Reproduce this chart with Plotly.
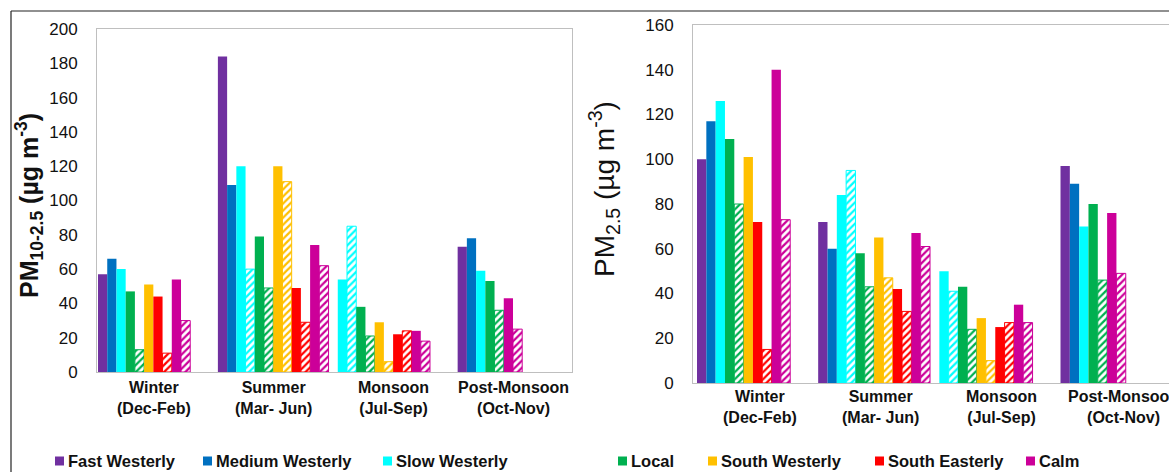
import plotly.graph_objects as go

# ---- data -------------------------------------------------------------
seasons = ["Winter<br>(Dec-Feb)", "Summer<br>(Mar- Jun)",
           "Monsoon<br>(Jul-Sep)", "Post-Monsoon<br>(Oct-Nov)"]
winds = ["Fast Westerly", "Medium Westerly", "Slow Westerly", "Local",
         "South Westerly", "South Easterly", "Calm"]
wind_colors = ["#7030A0", "#0070C0", "#00FFFF", "#00B050",
               "#FFC000", "#FF0000", "#CC0099"]

# PM10-2.5 (µg m-3), one list per wind class: Winter, Summer, Monsoon, Post-Monsoon
coarse_solid = {
    "Fast Westerly":   [57, 184, None, 73],
    "Medium Westerly": [66, 109, None, 78],
    "Slow Westerly":   [60, 120, 54, 59],
    "Local":           [47, 79, 38, 53],
    "South Westerly":  [51, 120, 29, None],
    "South Easterly":  [44, 49, 22, None],
    "Calm":            [54, 74, 24, 43],
}
coarse_hatched = {
    "Fast Westerly":   [None, None, None, None],
    "Medium Westerly": [None, None, None, None],
    "Slow Westerly":   [None, 60, 85, None],
    "Local":           [13, 49, 21, 36],
    "South Westerly":  [None, 111, 6, None],
    "South Easterly":  [11, 29, 24, None],
    "Calm":            [30, 62, 18, 25],
}

# PM2.5 (µg m-3)
fine_solid = {
    "Fast Westerly":   [100, 72, None, 97],
    "Medium Westerly": [117, 60, None, 89],
    "Slow Westerly":   [126, 84, 50, 70],
    "Local":           [109, 58, 43, 80],
    "South Westerly":  [101, 65, 29, None],
    "South Easterly":  [72, 42, 25, None],
    "Calm":            [140, 67, 35, 76],
}
fine_hatched = {
    "Fast Westerly":   [None, None, None, None],
    "Medium Westerly": [None, None, None, None],
    "Slow Westerly":   [None, 95, 41, None],
    "Local":           [80, 43, 24, 46],
    "South Westerly":  [None, 47, 10, None],
    "South Easterly":  [15, 32, 27, None],
    "Calm":            [73, 61, 27, 49],
}

# ---- layout constants ---------------------------------------------------
W, H = 1169, 472
BLOCK = 13          # bar slots reserved for each season
FONT = "Liberation Sans, Arial, sans-serif"
BOX = "#BFBFBF"
TEXT = "#111111"


def px_x(p):
    return p / W


def px_y(p):
    return 1 - p / H


def slot_positions(solid, hatched):
    """Consecutive slot index for every bar, season by season."""
    pos_s = {w: [None] * len(seasons) for w in winds}
    pos_h = {w: [None] * len(seasons) for w in winds}
    for s in range(len(seasons)):
        k = BLOCK * s
        for w in winds:
            if solid[w][s] is not None:
                pos_s[w][s] = k
                k += 1
            if hatched[w][s] is not None:
                pos_h[w][s] = k
                k += 1
    return pos_s, pos_h


fig = go.Figure()


def add_panel(solid, hatched, xa, ya):
    pos_s, pos_h = slot_positions(solid, hatched)
    for w, c in zip(winds, wind_colors):
        xs = [p for p, v in zip(pos_s[w], solid[w]) if v is not None]
        ys = [v for v in solid[w] if v is not None]
        if xs:
            fig.add_trace(go.Bar(
                x=xs, y=ys, width=1, name=w, xaxis=xa, yaxis=ya,
                marker=dict(color=c, line=dict(width=0)), showlegend=False))
        xs = [p for p, v in zip(pos_h[w], hatched[w]) if v is not None]
        ys = [v for v in hatched[w] if v is not None]
        if xs:
            fig.add_trace(go.Bar(
                x=xs, y=ys, width=1, name=w, xaxis=xa, yaxis=ya,
                marker=dict(color="white", line=dict(color=c, width=1),
                            pattern=dict(shape="/", fgcolor=c, bgcolor="white",
                                         size=5, solidity=0.45,
                                         fillmode="replace")),
                showlegend=False))


add_panel(coarse_solid, coarse_hatched, "x", "y")
add_panel(fine_solid, fine_hatched, "x2", "y2")

common_x = dict(showticklabels=False, ticks="", showgrid=False, zeroline=False,
                showline=True, linecolor=BOX, linewidth=1, mirror=True)
common_y = dict(ticks="", showgrid=False, zeroline=False, showline=True,
                linecolor=BOX, linewidth=1, dtick=20,
                tickfont=dict(family=FONT, size=17, color=TEXT),
                ticklabelstandoff=15)

fig.update_layout(
    width=W, height=H,
    margin=dict(l=0, r=0, t=0, b=0, autoexpand=False),
    paper_bgcolor="white", plot_bgcolor="white",
    barmode="overlay", showlegend=False,
    font=dict(family=FONT, color=TEXT),
    xaxis=dict(domain=[px_x(97), px_x(572)], range=[-0.61, 50.9], **common_x),
    yaxis=dict(domain=[px_y(372), px_y(29)], range=[0, 200], mirror=True,
               **common_y),
    xaxis2=dict(domain=[px_x(693), 1.0], range=[-0.93, 50.14], anchor="y2",
                **common_x),
    yaxis2=dict(domain=[px_y(383), px_y(25)], range=[0, 160], anchor="x2",
                mirror=False, **common_y),
)

annotations = []
# season labels under each block of bars
for xa, ymid, shift in (("x", 398, -4), ("x2", 407, 2)):
    for s, lab in enumerate(seasons):
        annotations.append(dict(
            text=f"<b>{lab}</b>", x=BLOCK * s + 6, xref=xa, xshift=shift,
            y=px_y(ymid), yref="paper", xanchor="center", yanchor="middle",
            showarrow=False, align="center",
            font=dict(family=FONT, size=16, color=TEXT)))

# y-axis titles
annotations.append(dict(
    text="<b>PM<sub>10-2.5</sub> (µg m<sup>-3</sup>)</b>",
    x=px_x(29), y=px_y(206), xref="paper", yref="paper", textangle=-90,
    xanchor="center", yanchor="middle", showarrow=False,
    font=dict(family=FONT, size=25, color=TEXT)))
annotations.append(dict(
    text="PM<sub>2.5</sub> (µg m<sup>-3</sup>)",
    x=px_x(604), y=px_y(189), xref="paper", yref="paper", textangle=-90,
    xanchor="center", yanchor="middle", showarrow=False,
    font=dict(family=FONT, size=28, color=TEXT)))

# legend: colour square followed by the class name
legend_left = [55, 203, 383, 618, 708, 875, 1026]
shapes = []
for w, c, lx in zip(winds, wind_colors, legend_left):
    shapes.append(dict(type="rect", xref="paper", yref="paper",
                       x0=px_x(lx), x1=px_x(lx + 9),
                       y0=px_y(465.5), y1=px_y(456.5),
                       fillcolor=c, line=dict(width=0)))
    annotations.append(dict(
        text=f"<b>{w}</b>", x=px_x(lx + 11), y=px_y(461), xref="paper",
        yref="paper", xanchor="left", yanchor="middle", showarrow=False,
        font=dict(family=FONT, size=16.5, color=TEXT)))

# outer frame (left and top edges)
shapes.append(dict(type="line", xref="paper", yref="paper",
                   x0=px_x(11), x1=px_x(11), y0=0, y1=px_y(11),
                   line=dict(color="#222", width=1.2)))
shapes.append(dict(type="line", xref="paper", yref="paper",
                   x0=px_x(11), x1=1, y0=px_y(11), y1=px_y(11),
                   line=dict(color="#222", width=1.2)))

fig.update_layout(annotations=annotations, shapes=shapes)

fig.write_html("out.html")
